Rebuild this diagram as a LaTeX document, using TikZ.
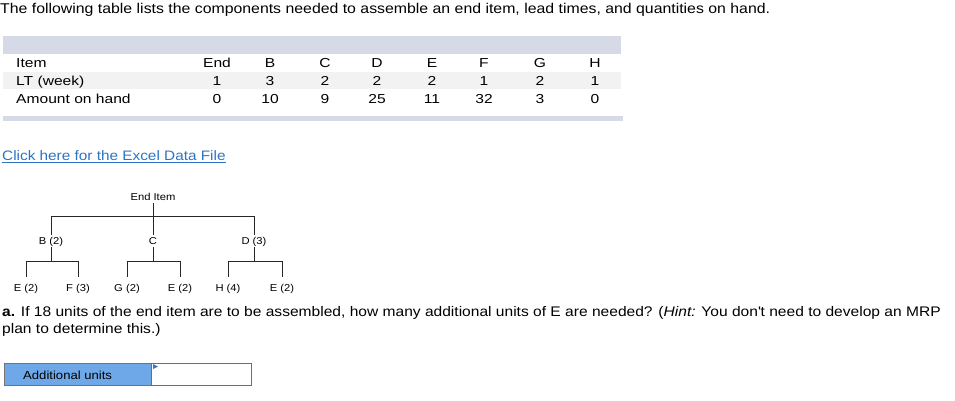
\documentclass[tikz,border=0pt]{standalone}
\usepackage{fontspec}
\setmainfont[FakeStretch=1.12]{Liberation Sans}
\newfontfamily\tabfont[FakeStretch=1.2]{Liberation Sans}
\definecolor{band}{HTML}{D6DAE6}
\definecolor{rowbg}{HTML}{F2F2F2}
\definecolor{linkblue}{HTML}{2E72C2}
\definecolor{boxblue}{HTML}{6FA8E8}
\definecolor{boxedge}{HTML}{3A78C3}
\begin{document}
\begin{tikzpicture}[x=1pt,y=-1pt,
  txt/.style={inner sep=0pt,anchor=base west,font=\fontsize{14}{17}\selectfont},
  cell/.style={inner sep=0pt,anchor=base,font=\tabfont\fontsize{13}{15}\selectfont},
  rowlab/.style={inner sep=0pt,anchor=base west,font=\tabfont\fontsize{13}{15}\selectfont},
  tlab/.style={inner sep=0pt,anchor=base,font=\fontsize{10}{12}\selectfont},
  tline/.style={line width=0.9pt,black!85}]
\useasboundingbox (0,0) rectangle (955,400);
% title
\node[txt,font=\fontsize{14.15}{17}\selectfont] (title) at (0,13) {The following table lists the components needed to assemble an end item, lead times, and quantities on hand.};
% table bands
\fill[band] (3,36) rectangle (621,54);
\fill[rowbg] (3,72) rectangle (621,89);
\fill[band] (3,116) rectangle (623,121);
\node[rowlab] (r1) at (16,67) {Item};
\node[rowlab] (r2) at (16,85) {LT (week)};
\node[rowlab] (r3) at (16,103) {Amount on hand};
\foreach \x/\a/\b/\c [count=\i] in {217/End/1/0, 270/B/3/10, 325/C/2/9, 377/D/2/25, 432/E/2/11, 484/F/1/32, 540/G/2/3, 595/H/1/0}{
  \node[cell] (h\i) at (\x,67) {\a};
  \node[cell] (l\i) at (\x,85) {\b};
  \node[cell] (q\i) at (\x,103) {\c};
}
% link
\node[txt,text=linkblue,font=\fontsize{13.7}{17}\selectfont] (link) at (2,160) {Click here for the Excel Data File};
\draw[linkblue,line width=0.8pt] (link.south west) ++(0,2) coordinate (ul1) -- (ul1 -| link.south east);
% tree
\node[tlab] (end) at (153,200) {End Item};
\node[tlab] (b) at (51,244) {B (2)};
\node[tlab] (c) at (153,244) {C};
\node[tlab] (d) at (254,244) {D (3)};
\node[tlab] (e1) at (26,291) {E (2)};
\node[tlab] (f) at (78,291) {F (3)};
\node[tlab] (g) at (127,291) {G (2)};
\node[tlab] (e2) at (180,291) {E (2)};
\node[tlab] (h) at (228,291) {H (4)};
\node[tlab] (e3) at (282,291) {E (2)};
\coordinate (j0) at (153,216);
\draw[tline] (153,203) -- (j0);
\draw[tline] (51,235) -- (51,216) -- (254,216) -- (254,235);
\draw[tline] (j0) -- (153,235);
\foreach \p/\l/\r in {51/26/78, 153/127/180, 254/228/282}{
  \draw[tline] (\p,247) -- (\p,261);
  \draw[tline] (\l,277) -- (\l,261) -- (\r,261) -- (\r,277);
}
% question
\node[txt,font=\fontsize{13.9}{17}\selectfont] (q) at (2,316) {\textbf{a.} If 18 units of the end item are to be assembled, how many additional units of E are needed? (\textit{Hint:} You don\textquotesingle t need to develop an MRP};
\node[txt,font=\fontsize{13.9}{17}\selectfont] (q2) at (2,333) {plan to determine this.)};
% answer box
\draw[fill=boxblue,draw=black!55,line width=0.8pt] (4,363) rectangle (151,385);
\node[inner sep=0pt,anchor=base west,font=\fontsize{11.7}{14}\selectfont] (al) at (23,379) {Additional units};
\draw[fill=white,draw=boxedge,line width=1pt] (151,363) rectangle (251,385);
\fill[boxedge] (153,364) -- (158,366.5) -- (153,369) -- cycle;
\end{tikzpicture}
\end{document}
